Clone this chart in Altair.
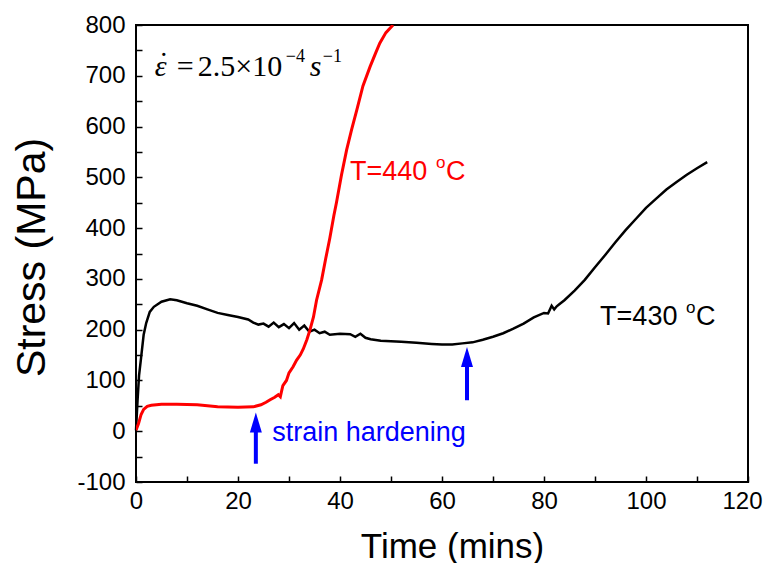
import altair as alt
import pandas as pd

# ---------------- data ----------------
black_t = [0, 0.3, 0.6, 1.0, 1.5, 2.0, 2.7, 3.5, 5, 6.7, 8, 10, 12, 14, 16, 18, 20, 22,
           23, 24, 25, 26, 27, 28, 29, 30, 31, 32, 33, 34, 35, 36, 37, 38, 40, 42, 43, 44,
           45, 46, 48, 50, 52, 55, 58, 60, 62, 64, 66, 68, 70, 72, 74, 76, 78, 80, 80.8,
           81.5, 82, 82.5, 83, 84, 86, 88, 90, 92, 94, 96, 98, 100, 102, 104, 106, 108,
           110, 112]
black_s = [2, 60, 110, 145, 190, 213, 235, 245, 255, 260, 258, 252, 247, 240, 233, 229, 225, 220,
           214, 210, 212, 206, 214, 205, 211, 203, 213, 200, 208, 196, 200, 193, 196, 190, 192, 191, 186, 192,
           184, 181, 178, 177, 176, 174, 172, 171, 171, 173, 175, 180, 186, 193, 202, 212, 224, 233, 232,
           247, 240, 246, 250, 258, 277, 298, 323, 347, 372, 396, 418, 440, 458, 476, 491, 505,
           518, 530]

red_t = [0, 0.5, 1.0, 1.5, 2.2, 3, 5, 8, 12, 16, 20, 23, 24.5, 25.5, 26.3, 27.2, 27.9, 28.3,
         28.8, 29.5, 30, 30.8, 31.5, 32.2, 32.8, 33.5, 34.1, 34.8, 35.4, 36.4, 37.2, 38, 38.8,
         39.3, 40.3, 41.3, 42.3, 43.3, 44.5, 45.9, 47, 47.8, 49, 50.4]
red_s = [2, 15, 33, 43, 49, 51, 53, 53, 52, 48, 47, 48, 52, 57, 62, 67, 72, 68,
         90, 100, 115, 127, 140, 150, 162, 180, 199, 225, 258, 298, 340, 380, 425,
         450, 505, 554, 595, 633, 680, 718, 745, 764, 785, 800]

x_labels = [0, 20, 40, 60, 80, 100]
x_last_label = [120]
x_ticks = list(range(0, 121, 10))
y_labels = [-100, 0, 100, 200, 300, 400, 500, 600, 700, 800]
y_ticks = list(range(-100, 801, 50))

arrow_t = [23.5, 64.9]
arrow_tail = [-64, 61]
arrow_tip = [37, 166]
arrow_base = [7, 136]

# ---------------- tables ----------------
black = pd.DataFrame({"t": black_t, "s": black_s, "i": list(range(len(black_t)))})
red = pd.DataFrame({"t": red_t, "s": red_s, "i": list(range(len(red_t)))})
arrows = pd.DataFrame({"t": arrow_t, "tail": arrow_tail, "tip": arrow_tip, "base": arrow_base})

SANS = "Liberation Sans"
SERIF = "Liberation Serif"

xs = alt.Scale(domain=[0, 120], nice=False, zero=False)
ys = alt.Scale(domain=[-100, 800], nice=False, zero=False)

LBL = "toString(datum.value)"

x_label_axis = alt.Axis(values=x_labels, orient="bottom", title="Time (mins)", ticks=False, tickSize=0,
                        domain=False, grid=False, labelFont=SANS, labelFontSize=24, labelColor="black",
                        labelPadding=7, titleFont=SANS, titleFontSize=35, titleFontWeight="normal",
                        titleColor="black", titlePadding=16, titleX=316, labelExpr=LBL, labelFlush=False)
x_last_axis = alt.Axis(values=x_last_label, orient="bottom", title=None, ticks=False, tickSize=0,
                       domain=False, grid=False, labelFont=SANS, labelFontSize=24, labelColor="black",
                       labelPadding=7, labelExpr=LBL, labelFlush=True, labelFlushOffset=14)
y_label_axis = alt.Axis(values=y_labels, orient="left", title="Stress (MPa)", ticks=False, tickSize=0,
                        domain=False, grid=False, labelFont=SANS, labelFontSize=24, labelColor="black",
                        labelPadding=11, titleFont=SANS, titleFontSize=41, titleFontWeight="normal",
                        titleColor="black", titlePadding=23, titleY=232, labelExpr=LBL, labelFlush=False)
x_tick_axis = alt.Axis(values=x_ticks, orient="bottom", title=None, labels=False, domain=False,
                       grid=False, ticks=True, tickSize=6, tickWidth=1.5, tickColor="black", offset=-6)
y_tick_axis = alt.Axis(values=y_ticks, orient="left", title=None, labels=False, domain=False,
                       grid=False, ticks=True, tickSize=6, tickWidth=1.5, tickColor="black", offset=-6)

black_line = alt.Chart(black).mark_line(color="black", strokeWidth=2.5).encode(
    x=alt.X("t:Q", scale=xs, axis=x_label_axis),
    y=alt.Y("s:Q", scale=ys, axis=y_label_axis),
    order="i:Q",
)
red_line = alt.Chart(red).mark_line(color="#ff0000", strokeWidth=3, clip=True).encode(
    x=alt.X("t:Q", scale=xs, axis=x_tick_axis),
    y=alt.Y("s:Q", scale=ys, axis=y_tick_axis),
    order="i:Q",
)

shafts = alt.Chart(arrows).mark_rule(color="#0000ff", strokeWidth=4).encode(
    x=alt.X("t:Q", scale=xs, axis=x_last_axis),
    y=alt.Y("tail:Q", scale=ys, axis=None),
    y2="base:Q",
)
heads = alt.Chart(arrows).mark_point(
    shape="M0,0 L0.6,2 L-0.6,2 Z", filled=True, size=400, color="#0000ff", opacity=1, strokeWidth=0
).encode(
    x=alt.X("t:Q", scale=xs, axis=None),
    y=alt.Y("tip:Q", scale=ys, axis=None),
)


def txt(t, s, text, color="black", size=27, font=SANS, style="normal", dx=0, dy=0):
    df = pd.DataFrame({"t": [t], "s": [s], "label": [text]})
    return alt.Chart(df).mark_text(
        align="left", baseline="alphabetic", font=font, fontSize=size, fontStyle=style,
        color=color, dx=dx, dy=dy
    ).encode(
        x=alt.X("t:Q", scale=xs, axis=None),
        y=alt.Y("s:Q", scale=ys, axis=None),
        text="label:N",
    )


fx, fy = 3.7, 700
formula = [
    txt(fx, fy, "\u03b5", size=30, font=SERIF, style="italic"),
    txt(fx, fy, "\u02d9", size=30, font=SERIF, dx=4, dy=-3),
    txt(fx, fy, "=", size=30, font=SERIF, dx=22),
    txt(fx, fy, "2.5\u00d710", size=30, font=SERIF, dx=43),
    txt(fx, fy, "\u22124", size=18, font=SERIF, dx=131, dy=-14),
    txt(fx, fy, "s", size=30, font=SERIF, style="italic", dx=155),
    txt(fx, fy, "\u22121", size=18, font=SERIF, dx=168, dy=-14),
]

lab440 = [
    txt(41.96, 494.7, "T=440", color="#ff0000"),
    txt(41.96, 494.7, "o", color="#ff0000", size=17, dx=86, dy=-12),
    txt(41.96, 494.7, "C", color="#ff0000", dx=96),
]
lab430 = [
    txt(91.0, 209.2, "T=430"),
    txt(91.0, 209.2, "o", size=17, dx=86, dy=-12),
    txt(91.0, 209.2, "C", dx=96),
]
strain = [txt(26.7, -19.3, "strain hardening", color="#0000ff")]

chart = alt.layer(
    black_line, red_line, shafts, heads, *formula, *lab440, *lab430, *strain
).resolve_axis(x="independent", y="independent").properties(
    width=612, height=457,
    autosize=alt.AutoSizeParams(type="none"),
    padding={"left": 128, "top": 17, "right": 15, "bottom": 81},
    background="white",
).configure_view(stroke="black", strokeWidth=2)

chart.save("out.html", embed_options={"renderer": "svg", "actions": False})
